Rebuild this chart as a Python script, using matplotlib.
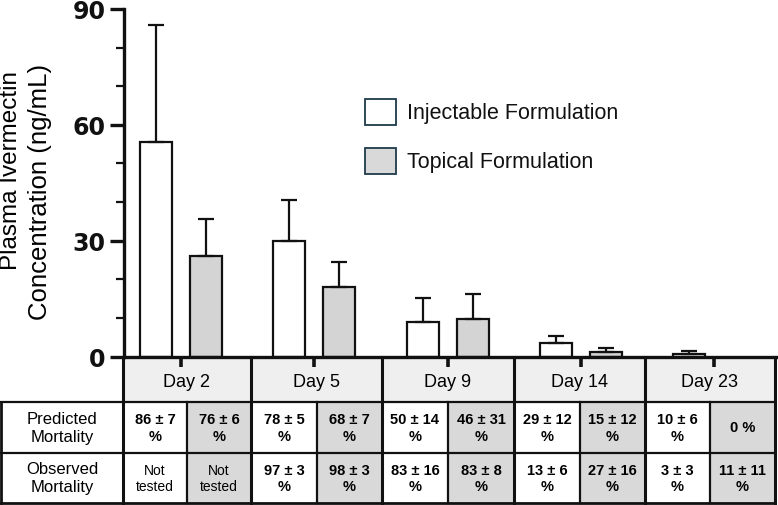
import numpy as np
import matplotlib
matplotlib.use("Agg")
import matplotlib.pyplot as plt
from matplotlib.patches import Rectangle

plt.rcParams['font.family'] = ['Liberation Sans', 'DejaVu Sans']

# ---------------- data ----------------
days = ["Day 2", "Day 5", "Day 9", "Day 14", "Day 23"]
inj_mean = [55.6, 29.8, 9.0, 3.5, 0.6]
inj_err = [30.2, 10.8, 6.2, 1.7, 0.8]
top_mean = [26.0, 18.0, 9.6, 1.2, 0.0]
top_err = [9.7, 6.5, 6.6, 1.1, 0.0]

pred_inj = ["86 ± 7\n%", "78 ± 5\n%", "50 ± 14\n%", "29 ± 12\n%", "10 ± 6\n%"]
pred_top = ["76 ± 6\n%", "68 ± 7\n%", "46 ± 31\n%", "15 ± 12\n%", "0 %"]
obs_inj = ["Not\ntested", "97 ± 3\n%", "83 ± 16\n%", "13 ± 6\n%", "3 ± 3\n%"]
obs_top = ["Not\ntested", "98 ± 3\n%", "83 ± 8\n%", "27 ± 16\n%", "11 ± 11\n%"]
row_labels = ["Predicted\nMortality", "Observed\nMortality"]
series_names = ["Injectable Formulation", "Topical Formulation"]
yticks = [0, 30, 60, 90]

W, H = 778, 506
fig = plt.figure(figsize=(W / 100, H / 100), dpi=100)

# ---------------- table / overlay axes in pixel coordinates ----------------
tax = fig.add_axes([0, 0, 1, 1], zorder=0)
tax.set_xlim(0, W)
tax.set_ylim(H, 0)
tax.axis('off')

xe = [1, 123, 187, 251, 317, 382, 448, 514, 580, 645, 710, 775]
yh0, yh1, yp1, yo1 = 358, 403, 454, 504
light = '#efefef'
gray = '#d9d9d9'
lw_grid = 1.6

# header cells
for i, d in enumerate(days):
    x0, x1 = xe[1 + 2 * i], xe[3 + 2 * i]
    tax.add_patch(Rectangle((x0, yh0), x1 - x0, yh1 - yh0, facecolor=light,
                            edgecolor='none'))
    tax.text((x0 + x1) / 2, (yh0 + yh1) / 2 + 2, d, ha='center', va='center',
             fontsize=13)

# body cells
rows = [(yh1, yp1, pred_inj, pred_top), (yp1, yo1, obs_inj, obs_top)]
for r, (y0, y1, vi, vt) in enumerate(rows):
    tax.text((xe[0] + xe[1]) / 2, (y0 + y1) / 2, row_labels[r], ha='center',
             va='center', fontsize=12, linespacing=1.25)
    for i in range(len(days)):
        a, b, c = xe[1 + 2 * i], xe[2 + 2 * i], xe[3 + 2 * i]
        tax.add_patch(Rectangle((b, y0), c - b, y1 - y0, facecolor=gray,
                                edgecolor='none'))
        for txt, xc in ((vi[i], (a + b) / 2), (vt[i], (b + c) / 2)):
            bold = not txt.startswith("Not")
            tax.text(xc, (y0 + y1) / 2, txt, ha='center', va='center',
                     fontsize=10.5 if bold else 10,
                     fontweight='bold' if bold else 'normal',
                     linespacing=1.25)

# grid lines
lc = '#111111'
tax.plot([xe[0], xe[-1]], [yh1, yh1], color=lc, lw=lw_grid)
tax.plot([xe[0], xe[-1]], [yp1, yp1], color=lc, lw=lw_grid)
tax.plot([xe[0], xe[-1]], [yo1, yo1], color=lc, lw=lw_grid + 0.4)
tax.plot([xe[0], xe[0]], [yh1, yo1], color=lc, lw=lw_grid + 0.4)
for k in range(1, len(xe)):
    if k % 2 == 1:  # group borders
        tax.plot([xe[k], xe[k]], [yh0, yo1], color=lc, lw=lw_grid + 0.6)
    else:
        tax.plot([xe[k], xe[k]], [yh1, yo1], color=lc, lw=lw_grid)

# legend
leg_edge = '#1f3a4c'
for j, (name, fc) in enumerate(zip(series_names, ['white', gray])):
    y0 = 100 + j * 49
    tax.add_patch(Rectangle((365, y0), 31, 26, facecolor=fc, edgecolor=leg_edge,
                            lw=1.3))
    tax.text(407, y0 + 13, name, ha='left', va='center', fontsize=15.5,
             color='#111111')

# y label (two lines)
tax.text(11, 170, "Plasma Ivermectin", rotation=90, ha='center', va='center',
         fontsize=17.5)
tax.text(40, 192, "Concentration (ng/mL)", rotation=90, ha='center',
         va='center', fontsize=18.5)

# ---------------- main bar axes ----------------
y_top_px, y0_px = 10, 357.5
ax = fig.add_axes([124 / W, (H - y0_px) / H, (776 - 124) / W,
                   (y0_px - y_top_px) / H], zorder=1)
ax.set_facecolor('none')
ax.set_ylim(0, 90)
ax.set_xlim(-0.428, 4.465)

x = np.arange(len(days))
off, bw = 0.1876, 0.24
err_kw = dict(elinewidth=1.6, capthick=1.6, ecolor='#111111', capsize=6)
ax.bar(x - off, inj_mean, width=bw, color='white', edgecolor='#111111',
       linewidth=1.6, yerr=[np.zeros(len(x)), inj_err], error_kw=err_kw,
       zorder=2)
tm = np.array(top_mean)
te = np.array(top_err)
mask = tm > 0
ax.bar(x[mask] + off, tm[mask], width=bw, color='#d4d4d4',
       edgecolor='#111111', linewidth=1.6,
       yerr=[np.zeros(mask.sum()), te[mask]], error_kw=err_kw, zorder=2)

for s in ['top', 'right']:
    ax.spines[s].set_visible(False)
ax.spines['left'].set_linewidth(2.4)
ax.spines['bottom'].set_linewidth(2.4)
ax.spines['left'].set_color('#111111')
ax.spines['bottom'].set_color('#111111')

ax.set_yticks(yticks)
ax.set_yticks(np.arange(0, 91, 10), minor=True)
ax.tick_params(axis='y', which='major', length=10, width=2.4, pad=3.5,
               colors='#111111')
ax.tick_params(axis='y', which='minor', length=6, width=1.6, colors='#111111')
ax.set_yticklabels([str(v) for v in yticks], fontsize=17, fontweight='bold',
                   family='DejaVu Sans')
ax.set_xticks(x)
ax.set_xticklabels([])
ax.tick_params(axis='x', length=7, width=2.6, colors='#111111')

fig.savefig('out.png', dpi=100)
